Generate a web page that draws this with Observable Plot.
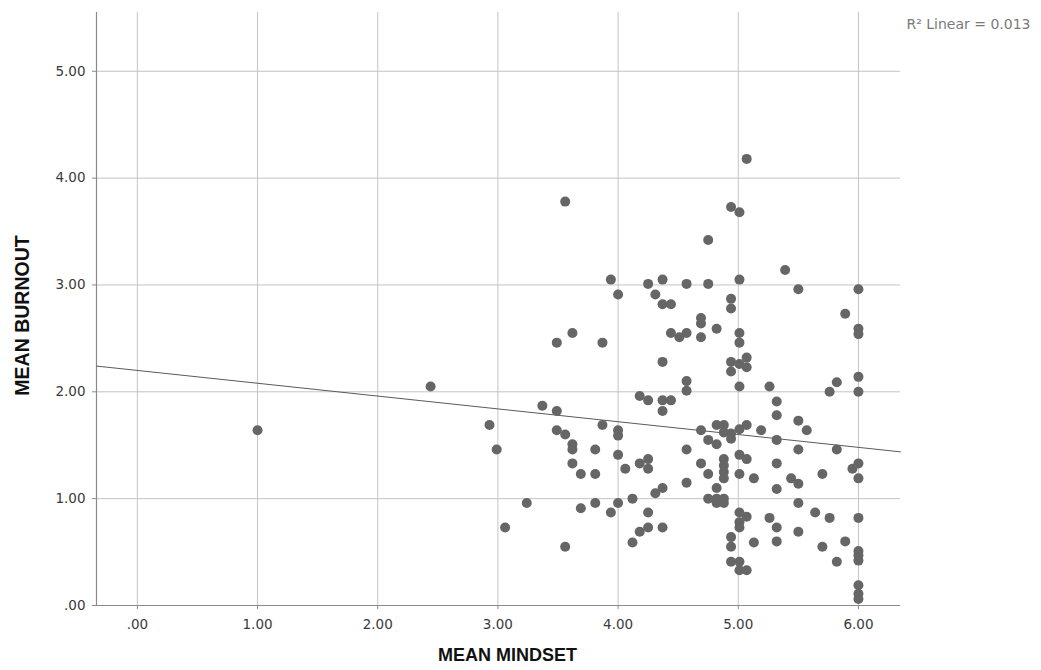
<!DOCTYPE html>
<html>
<head>
<meta charset="utf-8">
<script src="https://cdn.jsdelivr.net/npm/d3@7"></script>
<script src="https://cdn.jsdelivr.net/npm/@observablehq/plot@0.6"></script>
<style>
  html, body { margin: 0; padding: 0; background: #fff; }
  #chart { width: 1041px; height: 670px; }
</style>
</head>
<body>
<div id="chart"></div>
<script>
const mindset = [
  1.00, 2.44, 2.93, 2.99, 3.06, 3.24, 3.37, 3.49, 3.49, 3.49,
  3.56, 3.56, 3.56, 3.62, 3.62, 3.62, 3.62, 3.69, 3.69, 3.81,
  3.81, 3.81, 3.87, 3.87, 3.94, 3.94, 4.00, 4.00, 4.00, 4.00,
  4.00, 4.06, 4.12, 4.12, 4.18, 4.18, 4.18, 4.25, 4.25, 4.25,
  4.25, 4.25, 4.25, 4.31, 4.31, 4.37, 4.37, 4.37, 4.37, 4.37,
  4.37, 4.37, 4.44, 4.44, 4.44, 4.51, 4.57, 4.57, 4.57, 4.57,
  4.57, 4.57, 4.69, 4.69, 4.69, 4.69, 4.69, 4.75, 4.75, 4.75,
  4.75, 4.75, 4.82, 4.82, 4.82, 4.82, 4.82, 4.82, 4.88, 4.88,
  4.88, 4.88, 4.88, 4.88, 4.88, 4.88, 4.94, 4.94, 4.94, 4.94,
  4.94, 4.94, 4.94, 4.94, 4.94, 4.94, 5.01, 5.01, 5.01, 5.01,
  5.01, 5.01, 5.01, 5.01, 5.01, 5.01, 5.01, 5.01, 5.01, 5.01,
  5.07, 5.07, 5.07, 5.07, 5.07, 5.07, 5.07, 5.13, 5.13, 5.19,
  5.26, 5.26, 5.32, 5.32, 5.32, 5.32, 5.32, 5.32, 5.32, 5.39,
  5.44, 5.50, 5.50, 5.50, 5.50, 5.50, 5.50, 5.57, 5.64, 5.70,
  5.70, 5.76, 5.76, 5.82, 5.82, 5.82, 5.89, 5.89, 5.95, 6.00,
  6.00, 6.00, 6.00, 6.00, 6.00, 6.00, 6.00, 6.00, 6.00, 6.00,
  6.00, 6.00, 6.00
];
const burnout = [
  1.64, 2.05, 1.69, 1.46, 0.73, 0.96, 1.87, 2.46, 1.82, 1.64,
  1.60, 3.78, 0.55, 2.55, 1.51, 1.46, 1.33, 1.23, 0.91, 1.46,
  1.23, 0.96, 2.46, 1.69, 3.05, 0.87, 2.91, 1.64, 1.59, 1.41,
  0.96, 1.28, 1.00, 0.59, 1.96, 1.33, 0.69, 3.01, 1.92, 1.37,
  1.28, 0.87, 0.73, 2.91, 1.05, 3.05, 2.82, 2.28, 1.92, 1.82,
  1.10, 0.73, 2.82, 2.55, 1.92, 2.51, 3.01, 2.55, 2.10, 2.01,
  1.46, 1.15, 2.69, 2.64, 2.51, 1.64, 1.33, 3.42, 3.01, 1.55,
  1.23, 1.00, 2.59, 1.69, 1.51, 1.10, 1.00, 0.96, 1.69, 1.62,
  1.37, 1.31, 1.25, 1.19, 1.00, 0.96, 3.73, 2.87, 2.78, 2.28,
  2.19, 1.61, 1.56, 0.64, 0.55, 0.41, 3.68, 3.05, 2.55, 2.46,
  2.26, 2.05, 1.65, 1.41, 1.23, 0.87, 0.78, 0.73, 0.41, 0.33,
  4.18, 2.32, 2.23, 1.69, 1.37, 0.83, 0.33, 1.19, 0.59, 1.64,
  2.05, 0.82, 1.91, 1.78, 1.55, 1.33, 1.09, 0.73, 0.60, 3.14,
  1.19, 2.96, 1.73, 1.46, 1.14, 0.96, 0.69, 1.64, 0.87, 1.23,
  0.55, 2.00, 0.82, 2.09, 1.46, 0.41, 2.73, 0.60, 1.28, 2.96,
  2.59, 2.54, 2.14, 2.00, 1.33, 1.19, 0.82, 0.51, 0.47, 0.42,
  0.19, 0.11, 0.06
];
const xTicks = [0, 1, 2, 3, 4, 5, 6];
const yTicks = [0, 1, 2, 3, 4, 5];
const xDomain = [-0.34, 6.35];
const yDomain = [0, 5.55];
const fitIntercept = 2.20;
const fitSlope = -0.12;
const rSquared = "0.013";
const xLabel = "MEAN MINDSET";
const yLabel = "MEAN BURNOUT";

const points = mindset.map((x, i) => ({x, y: burnout[i]}));
const fitLine = xDomain.map(x => ({x, y: fitIntercept + fitSlope * x}));
const fmt = v => d3.format(".2f")(v).replace(/^0\./, ".");

const font = "'DejaVu Sans', sans-serif";
const boldFont = "'Liberation Sans', Arial, sans-serif";

const chart = Plot.plot({
  width: 1041,
  height: 670,
  marginLeft: 96,
  marginRight: 141,
  marginTop: 12,
  marginBottom: 65,
  style: {fontFamily: font, fontSize: "13.5px", color: "#3a3a3a", background: "#fff"},
  x: {domain: xDomain, ticks: xTicks, label: null},
  y: {domain: yDomain, ticks: yTicks, label: null},
  marks: [
    Plot.gridX(xTicks, {stroke: "#c4c4c4", strokeOpacity: 1, strokeWidth: 1}),
    Plot.gridY(yTicks, {stroke: "#c4c4c4", strokeOpacity: 1, strokeWidth: 1}),
    Plot.ruleX([xDomain[0]], {stroke: "#8a8a8a", strokeWidth: 1.2}),
    Plot.ruleY([yDomain[0]], {stroke: "#8a8a8a", strokeWidth: 1.2}),
    Plot.axisX(xTicks, {tickFormat: fmt, tickSize: 4, tickPadding: 10, stroke: "#8a8a8a", fill: "#3a3a3a", fontSize: 13.5}),
    Plot.axisY(yTicks, {tickFormat: fmt, tickSize: 4, tickPadding: 7, stroke: "#8a8a8a", fill: "#3a3a3a", fontSize: 13.5}),
    Plot.line(fitLine, {x: "x", y: "y", stroke: "#5a5a5a", strokeWidth: 1}),
    Plot.dot(points, {x: "x", y: "y", r: 5, fill: "#666666", stroke: "none"}),
    Plot.text([`R\u00B2 Linear = ${rSquared}`], {frameAnchor: "top-right", text: d => d, textAnchor: "start", dx: 6, dy: 7, fill: "#7a7a7a", fontSize: 14, fontFamily: font}),
    Plot.text([xLabel], {frameAnchor: "bottom", text: d => d, textAnchor: "middle", dx: 9, dy: 55, fill: "#111", fontSize: 18, fontWeight: "bold", fontFamily: boldFont}),
    Plot.text([yLabel], {frameAnchor: "left", text: d => d, textAnchor: "middle", dx: -74, dy: 6.5, rotate: -90, fill: "#111", fontSize: 19.5, fontWeight: "bold", fontFamily: boldFont})
  ]
});
document.getElementById("chart").appendChild(chart);
</script>
</body>
</html>
